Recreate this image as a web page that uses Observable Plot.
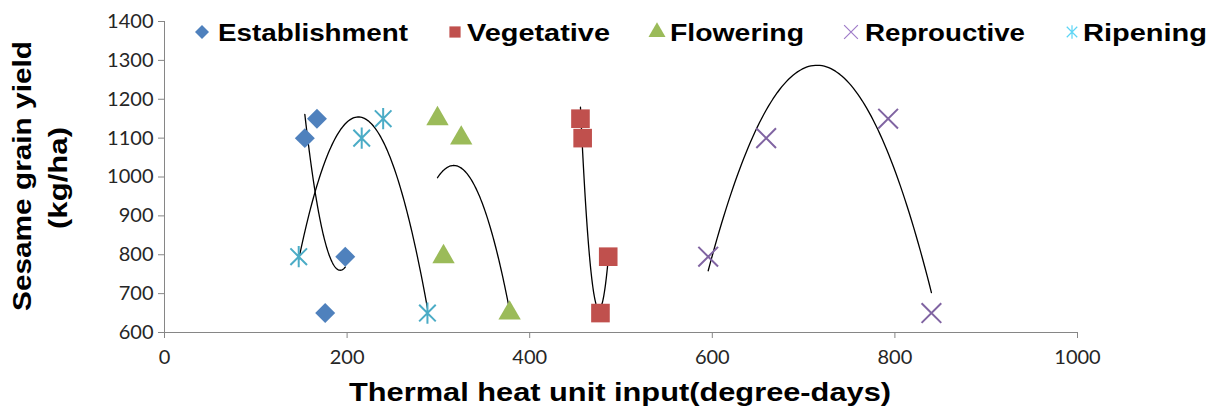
<!DOCTYPE html>
<html>
<head>
<meta charset="utf-8">
<script src="https://cdn.jsdelivr.net/npm/d3@7"></script>
<script src="https://cdn.jsdelivr.net/npm/@observablehq/plot@0.6"></script>
<style>
  html, body { margin: 0; padding: 0; background: #fff; }
  #chart svg { display: block; }
</style>
</head>
<body>
<div id="chart"></div>
<script>
// ---------- data ----------
const stageNames = ["Establishment", "Vegetative", "Flowering", "Reprouctive", "Ripening"];
const stageColors = ["#4F81BD", "#C0504D", "#9BBB59", "#8064A2", "#4BACC6"];

const establishmentX = [153.7, 167, 176, 198];
const establishmentY = [1100, 1150, 650, 795];
const vegetativeX = [455.6, 458, 477.5, 486];
const vegetativeY = [1150, 1100, 650, 795];
const floweringX = [299, 325, 305.6, 378];
const floweringY = [1150, 1100, 795, 650];
const reproductiveX = [595.5, 659, 792.6, 840];
const reproductiveY = [795, 1100, 1150, 650];
const ripeningX = [147, 216, 239.5, 288];
const ripeningY = [795, 1100, 1150, 650];

const xTicks = [0, 200, 400, 600, 800, 1000];
const yTicks = [600, 700, 800, 900, 1000, 1100, 1200, 1300, 1400];
const xTitle = "Thermal heat unit input(degree-days)";
const yTitle1 = "Sesame grain yield";
const yTitle2 = "(kg/ha)";

// ---------- symbols ----------
const asteriskSymbol = {
  draw(ctx, size) {
    const r = Math.sqrt(size) * 0.6;
    const d = r * 0.78;
    ctx.moveTo(0, -r); ctx.lineTo(0, r);
    ctx.moveTo(-d, -d); ctx.lineTo(d, d);
    ctx.moveTo(-d, d); ctx.lineTo(d, -d);
  }
};

const series = [
  {name: stageNames[0], xs: establishmentX, ys: establishmentY, symbol: "diamond2", color: stageColors[0], r: 9, filled: true},
  {name: stageNames[1], xs: vegetativeX, ys: vegetativeY, symbol: "square", color: stageColors[1], r: 10.5, filled: true},
  {name: stageNames[2], xs: floweringX, ys: floweringY, symbol: "triangle", color: stageColors[2], r: 8.3, filled: true},
  {name: stageNames[3], xs: reproductiveX, ys: reproductiveY, symbol: "times", color: stageColors[3], r: 9, filled: false},
  {name: stageNames[4], xs: ripeningX, ys: ripeningY, symbol: asteriskSymbol, color: stageColors[4], r: 10, filled: false}
];

// least-squares 2nd-order polynomial trendline (as in the source spreadsheet)
function quadFit(xs, ys) {
  const m = d3.mean(xs);
  const us = xs.map(x => x - m);
  let S = [0, 0, 0, 0, 0], T = [0, 0, 0];
  us.forEach((u, i) => {
    for (let k = 0; k < 5; k++) S[k] += Math.pow(u, k);
    for (let k = 0; k < 3; k++) T[k] += Math.pow(u, k) * ys[i];
  });
  const A = [[S[0], S[1], S[2]], [S[1], S[2], S[3]], [S[2], S[3], S[4]]];
  const det3 = M => M[0][0]*(M[1][1]*M[2][2]-M[1][2]*M[2][1]) - M[0][1]*(M[1][0]*M[2][2]-M[1][2]*M[2][0]) + M[0][2]*(M[1][0]*M[2][1]-M[1][1]*M[2][0]);
  const D = det3(A);
  const coef = [0, 1, 2].map(j => det3(A.map((row, i) => row.map((v, k) => k === j ? T[i] : v))) / D);
  return u => coef[0] + coef[1] * u + coef[2] * u * u;
}

const points = series.flatMap(s => s.xs.map((x, i) => ({stage: s.name, x, y: s.ys[i]})));
const trend = series.flatMap(s => {
  const m = d3.mean(s.xs);
  const f = quadFit(s.xs, s.ys);
  const [x0, x1] = d3.extent(s.xs);
  return d3.range(101).map(i => {
    const x = x0 + (x1 - x0) * i / 100;
    return {stage: s.name, x, y: f(x - m)};
  });
});

const W = 1211, H = 414;
const axisColor = "#868686";

const marks = [
  Plot.ruleX([0], {stroke: axisColor, strokeWidth: 1}),
  Plot.ruleY([600], {stroke: axisColor, strokeWidth: 1}),
  Plot.axisY({ticks: yTicks, tickSize: 6, tickPadding: 5, stroke: axisColor, fill: "#262626", fontSize: 20, label: null, tickFormat: d => String(d)}),
  Plot.axisX({ticks: xTicks, tickSize: 6, tickPadding: 11, stroke: axisColor, fill: "#262626", fontSize: 20, label: null, tickFormat: d => String(d)}),
  Plot.line(trend, {x: "x", y: "y", z: "stage", stroke: "#000", strokeWidth: 1.3})
];
series.forEach(s => {
  const data = points.filter(p => p.stage === s.name);
  marks.push(Plot.dot(data, s.filled
    ? {x: "x", y: "y", symbol: () => s.symbol, r: s.r, fill: s.color, stroke: "none"}
    : {x: "x", y: "y", symbol: () => s.symbol, r: s.r, fill: "none", stroke: s.color, strokeWidth: 2}));
});

const svg = Plot.plot({
  width: W, height: H,
  marginLeft: 164, marginRight: 134, marginTop: 21, marginBottom: 82,
  style: {fontFamily: "Lato, 'Liberation Sans', sans-serif", background: "#fff"},
  x: {domain: [0, 1000]},
  y: {domain: [600, 1400]},
  symbol: {type: "identity"},
  marks
});

document.getElementById("chart").appendChild(svg);

// ---------- titles & legend (drawn into the same svg) ----------
const sel = d3.select(svg);
const boldFont = "'Liberation Sans', Arial, sans-serif";

sel.append("text")
  .attr("x", 620).attr("y", 401)
  .attr("text-anchor", "middle")
  .attr("font-family", boldFont).attr("font-weight", "bold").attr("font-size", 26)
  .attr("fill", "#000")
  .attr("textLength", 542).attr("lengthAdjust", "spacingAndGlyphs")
  .text(xTitle);

sel.append("text")
  .attr("transform", "translate(31,176) rotate(-90)")
  .attr("text-anchor", "middle")
  .attr("font-family", boldFont).attr("font-weight", "bold").attr("font-size", 26)
  .attr("fill", "#000")
  .attr("textLength", 270).attr("lengthAdjust", "spacingAndGlyphs")
  .text(yTitle1);

sel.append("text")
  .attr("transform", "translate(67,178) rotate(-90)")
  .attr("text-anchor", "middle")
  .attr("font-family", boldFont).attr("font-weight", "bold").attr("font-size", 26)
  .attr("fill", "#000")
  .attr("textLength", 102).attr("lengthAdjust", "spacingAndGlyphs")
  .text(yTitle2);

const legendLayout = [
  {mx: 202, tx: 218, tw: 190},
  {mx: 455, tx: 467, tw: 143},
  {mx: 657, tx: 670, tw: 134},
  {mx: 851, tx: 865, tw: 160},
  {mx: 1072, tx: 1083, tw: 124}
];
const ly = 32;
const lg = sel.append("g");
series.forEach((s, i) => {
  const L = legendLayout[i];
  const sym = d3.symbol(typeof s.symbol === "string" ? {
      diamond2: d3.symbolDiamond2, square: d3.symbolSquare, triangle: d3.symbolTriangle, times: d3.symbolTimes
    }[s.symbol] : s.symbol, 40 * Math.PI);
  lg.append("path")
    .attr("d", sym())
    .attr("transform", `translate(${L.mx},${ly})`)
    .attr("fill", s.filled ? s.color : "none")
    .attr("stroke", s.filled ? "none" : d3.color(s.color).brighter(0.6))
    .attr("stroke-width", s.filled ? 0 : 1.2);
  lg.append("text")
    .attr("x", L.tx).attr("y", ly + 8.5)
    .attr("text-anchor", "start")
    .attr("font-family", boldFont).attr("font-weight", "bold").attr("font-size", 23)
    .attr("fill", "#000")
    .attr("textLength", L.tw).attr("lengthAdjust", "spacingAndGlyphs")
    .text(s.name);
});
</script>
</body>
</html>
